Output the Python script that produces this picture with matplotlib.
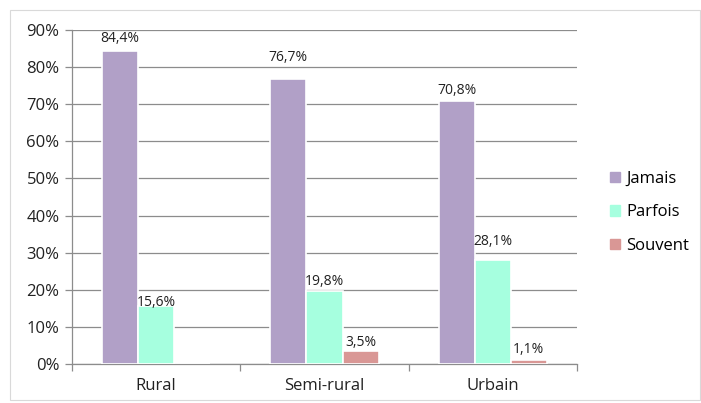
import matplotlib
matplotlib.use("Agg")
import matplotlib.pyplot as plt
from matplotlib.patches import Rectangle
import numpy as np

categories = ["Rural", "Semi-rural", "Urbain"]
series_names = ["Jamais", "Parfois", "Souvent"]
jamais = [84.4, 76.7, 70.8]
parfois = [15.6, 19.8, 28.1]
souvent = [0.0, 3.5, 1.1]
labels_jamais = ["84,4%", "76,7%", "70,8%"]
labels_parfois = ["15,6%", "19,8%", "28,1%"]
labels_souvent = ["", "3,5%", "1,1%"]
yticks = [0, 10, 20, 30, 40, 50, 60, 70, 80, 90]
colors = ["#B1A0C7", "#A6FFDF", "#D99795"]

# label vertical offsets (in axis units) above each bar, as placed in the original
label_offsets = [[3.2, 6.0, 3.0], [1.1, 2.3, 4.8], [0, 2.4, 2.9]]

plt.rcParams['font.family'] = ['Open Sans', 'DejaVu Sans']

fig = plt.figure(figsize=(7.01, 4.03), dpi=100)
fig.patches.append(Rectangle((10/701, 3/403), 690/701, 390/403, transform=fig.transFigure,
                             fill=False, edgecolor="#D9D9D9", linewidth=0.8))
ax = fig.add_axes([72/701, 1-364/403, 505/701, 334/403])

x = np.arange(len(categories))
w = 36/168
allvals = [jamais, parfois, souvent]
alllabels = [labels_jamais, labels_parfois, labels_souvent]
for i, (vals, labs) in enumerate(zip(allvals, alllabels)):
    xs = x + (i-1)*w
    ax.bar(xs, vals, width=w, color=colors[i], edgecolor="white", linewidth=1.2,
           label=series_names[i], zorder=3)
    for xi, v, lab, off in zip(xs, vals, labs, label_offsets[i]):
        if lab:
            ax.text(xi, v + off, lab, ha="center", va="center", fontsize=10,
                    color="#222222", zorder=4)

ax.set_xlim(-0.5, 2.5)
ax.set_ylim(0, 90)
ax.set_yticks(yticks)
ax.set_yticklabels([f"{t}%" for t in yticks], fontsize=12, color="#222222")
ax.yaxis.grid(True, color="#8C8C8C", linewidth=0.9, zorder=0)
ax.set_xticks(x)
ax.set_xticklabels(categories, fontsize=12, color="#222222")
ax.tick_params(axis="x", length=0, pad=10)
ax.set_xticks([-0.5, 0.5, 1.5, 2.5], minor=True)
ax.tick_params(axis="x", which="minor", length=5, color="#8C8C8C", width=0.9)
ax.tick_params(axis="y", length=5, color="#8C8C8C", width=0.9, pad=4)
for s in ["top", "right"]:
    ax.spines[s].set_visible(False)
for s in ["left", "bottom"]:
    ax.spines[s].set_color("#8C8C8C")
    ax.spines[s].set_linewidth(0.9)

handles = [Rectangle((0, 0), 1, 1, color=c) for c in colors]
fig.legend(handles, series_names, loc="upper left", bbox_to_anchor=(603/701, 1-164/403),
           frameon=False, fontsize=12, handlelength=0.6, handleheight=0.6,
           handletextpad=0.4, labelspacing=1.05, borderaxespad=0)

fig.savefig("out.png", dpi=100)
